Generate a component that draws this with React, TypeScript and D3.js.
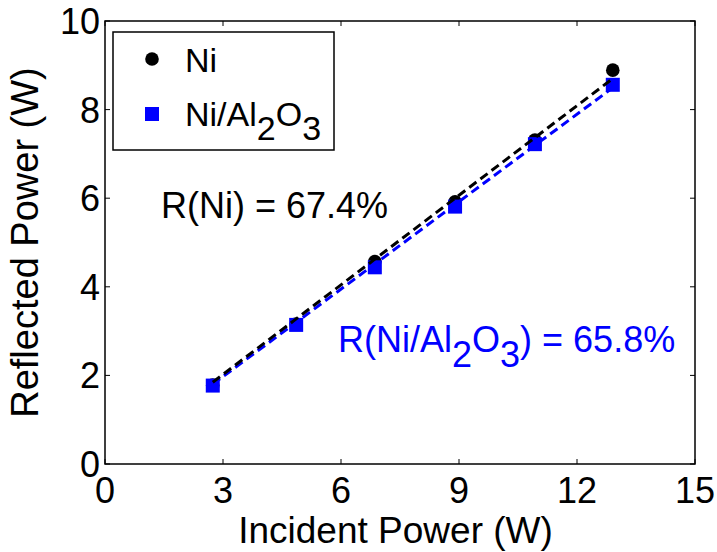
import React from "react";
import * as d3 from "d3";

const incident = [2.74, 4.86, 6.86, 8.9, 10.93, 12.91];
const reflectedNi = [1.78, 3.16, 4.57, 5.92, 7.31, 8.89];
const reflectedNiAl2O3 = [1.77, 3.14, 4.44, 5.81, 7.22, 8.56];
const fitSlopes = [0.674, 0.658]; // Ni, Ni/Al2O3
const xTicks = [0, 3, 6, 9, 12, 15];
const yTicks = [0, 2, 4, 6, 8, 10];

const W = 717;
const H = 552;
const M = { left: 105, right: 22, top: 21, bottom: 88 };
const FONT = "'Liberation Sans', Arial, Helvetica, sans-serif";

export default function App() {
  const x = d3.scaleLinear().domain([0, 15]).range([M.left, W - M.right]);
  const y = d3.scaleLinear().domain([0, 10]).range([H - M.bottom, M.top]);
  const x0 = x(0), x1 = x(15), y0 = y(0), y1 = y(10);
  const tl = 5;

  const line = d3
    .line<[number, number]>()
    .x((d) => x(d[0]))
    .y((d) => y(d[1]));
  const fitNi = incident.map((v) => [v, v * fitSlopes[0]] as [number, number]);
  const fitAl = incident.map((v) => [v, v * fitSlopes[1]] as [number, number]);

  const sq = 14;
  const cr = 6.8;

  return (
    <svg
      width={W}
      height={H}
      style={{ position: "absolute", left: 0, top: 0, background: "#fff" }}
      fontFamily={FONT}
    >
      <rect x={0} y={0} width={W} height={H} fill="#fff" />
      {/* box */}
      <rect x={x0} y={y1} width={x1 - x0} height={y0 - y1} fill="none" stroke="#000" strokeWidth={1.5} />
      {/* ticks */}
      {xTicks.map((t) => (
        <g key={"xt" + t}>
          <line x1={x(t)} x2={x(t)} y1={y0} y2={y0 - tl} stroke="#000" strokeWidth={1} />
          <line x1={x(t)} x2={x(t)} y1={y1} y2={y1 + tl} stroke="#000" strokeWidth={1} />
          <text x={x(t)} y={503} fontSize={36} textAnchor="middle" fill="#000">
            {t}
          </text>
        </g>
      ))}
      {yTicks.map((t) => (
        <g key={"yt" + t}>
          <line x1={x0} x2={x0 + tl} y1={y(t)} y2={y(t)} stroke="#000" strokeWidth={1} />
          <line x1={x1} x2={x1 - tl} y1={y(t)} y2={y(t)} stroke="#000" strokeWidth={1} />
          <text x={100} y={y(t) + 12.9} fontSize={36} textAnchor="end" fill="#000">
            {t}
          </text>
        </g>
      ))}
      {/* axis titles */}
      <text x={395.5} y={543} fontSize={37} textAnchor="middle" fill="#000">
        Incident Power (W)
      </text>
      <text
        transform={`translate(38, ${(y0 + y1) / 2}) rotate(-90)`}
        fontSize={38}
        textAnchor="middle"
        fill="#000"
      >
        Reflected Power (W)
      </text>

      {/* markers */}
      {incident.map((v, i) => (
        <circle key={"c" + i} cx={x(v)} cy={y(reflectedNi[i])} r={cr} fill="#000" />
      ))}
      {incident.map((v, i) => (
        <rect
          key={"s" + i}
          x={x(v) - sq / 2}
          y={y(reflectedNiAl2O3[i]) - sq / 2}
          width={sq}
          height={sq}
          fill="#0000ff"
        />
      ))}
      {/* fit lines */}
      <path d={line(fitAl) || ""} fill="none" stroke="#0000ff" strokeWidth={3} strokeDasharray="9,5" />
      <path d={line(fitNi) || ""} fill="none" stroke="#000" strokeWidth={3} strokeDasharray="9,5" />

      {/* annotations */}
      <text x={161} y={218} fontSize={36} fill="#000">
        R(Ni) = 67.4%
      </text>
      <text x={338} y={352} fontSize={36} fill="#0000ff">
        R(Ni/Al
        <tspan dy={15}>2</tspan>
        <tspan dy={-15}>O</tspan>
        <tspan dy={15}>3</tspan>
        <tspan dy={-15}>) = 65.8%</tspan>
      </text>

      {/* legend */}
      <rect x={113} y={32} width={221} height={118} fill="#fff" stroke="#000" strokeWidth={1.5} />
      <circle cx={152} cy={59} r={cr} fill="#000" />
      <text x={185} y={72} fontSize={34} fill="#000">
        Ni
      </text>
      <rect x={152 - sq / 2} y={114 - sq / 2} width={sq} height={sq} fill="#0000ff" />
      <text x={185} y={126} fontSize={34} fill="#000">
        Ni/Al
        <tspan dy={14}>2</tspan>
        <tspan dy={-14}>O</tspan>
        <tspan dy={14}>3</tspan>
      </text>
    </svg>
  );
}
